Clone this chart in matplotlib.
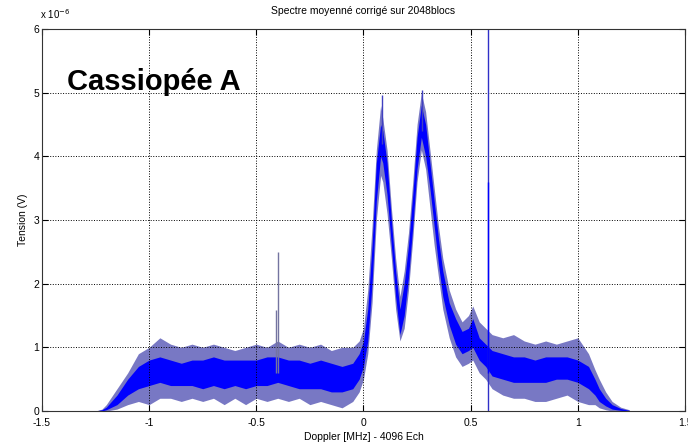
import numpy as np
import matplotlib
matplotlib.use('Agg')
import matplotlib.pyplot as plt

# Spectre moyen (unités de 1e-6 V), enveloppes
freq = [-1.25, -1.22, -1.20, -1.15, -1.10, -1.05, -1.00, -0.95, -0.90, -0.85,
        -0.80, -0.75, -0.70, -0.65, -0.60, -0.55, -0.50, -0.45, -0.40, -0.35,
        -0.30, -0.25, -0.20, -0.15, -0.10, -0.05, -0.02, 0.00, 0.02, 0.04,
        0.06, 0.08, 0.09, 0.11, 0.13, 0.15, 0.17, 0.19, 0.21, 0.23,
        0.25, 0.27, 0.29, 0.31, 0.33, 0.35, 0.37, 0.40, 0.43, 0.46,
        0.49, 0.51, 0.54, 0.57, 0.60, 0.65, 0.70, 0.75, 0.80, 0.85,
        0.90, 0.95, 1.00, 1.05, 1.08, 1.10, 1.13, 1.16, 1.20, 1.24]
coeur_bas = [0.00, 0.00, 0.02, 0.10, 0.25, 0.35, 0.40, 0.45, 0.40, 0.40,
             0.40, 0.35, 0.40, 0.35, 0.40, 0.35, 0.40, 0.40, 0.45, 0.40,
             0.35, 0.35, 0.35, 0.30, 0.30, 0.35, 0.50, 0.70, 1.10, 2.00,
             3.30, 4.00, 3.90, 3.40, 2.60, 1.80, 1.20, 1.50, 2.10, 2.90,
             3.80, 4.30, 4.00, 3.50, 2.90, 2.30, 1.80, 1.35, 1.05, 0.90,
             0.95, 1.00, 0.80, 0.70, 0.55, 0.50, 0.45, 0.45, 0.45, 0.45,
             0.50, 0.50, 0.45, 0.35, 0.25, 0.15, 0.08, 0.03, 0.01, 0.00]
coeur_haut = [0.00, 0.02, 0.06, 0.25, 0.50, 0.70, 0.80, 0.85, 0.80, 0.75,
              0.80, 0.80, 0.85, 0.80, 0.80, 0.80, 0.80, 0.85, 0.85, 0.80,
              0.80, 0.75, 0.80, 0.75, 0.70, 0.75, 0.90, 1.10, 1.60, 2.60,
              3.90, 4.50, 4.40, 3.90, 3.00, 2.20, 1.60, 2.00, 2.60, 3.40,
              4.30, 4.80, 4.50, 3.90, 3.30, 2.70, 2.20, 1.70, 1.45, 1.25,
              1.30, 1.45, 1.15, 1.05, 0.95, 0.90, 0.85, 0.85, 0.80, 0.85,
              0.85, 0.85, 0.80, 0.70, 0.50, 0.35, 0.20, 0.10, 0.04, 0.01]
pics_bas = [0.00, 0.00, 0.00, 0.03, 0.10, 0.15, 0.10, 0.20, 0.20, 0.15,
            0.20, 0.15, 0.20, 0.10, 0.20, 0.10, 0.20, 0.15, 0.20, 0.15,
            0.20, 0.10, 0.15, 0.10, 0.05, 0.15, 0.30, 0.50, 0.90, 1.70,
            3.00, 3.70, 3.60, 3.10, 2.40, 1.60, 1.10, 1.30, 1.90, 2.70,
            3.60, 4.10, 3.80, 3.20, 2.60, 2.10, 1.60, 1.15, 0.85, 0.70,
            0.75, 0.80, 0.60, 0.50, 0.35, 0.25, 0.20, 0.20, 0.15, 0.15,
            0.20, 0.25, 0.15, 0.10, 0.10, 0.05, 0.02, 0.00, 0.00, 0.00]
pics_haut = [0.00, 0.03, 0.10, 0.35, 0.60, 0.90, 1.00, 1.15, 1.05, 1.00,
             1.05, 1.00, 1.05, 1.00, 0.95, 1.00, 1.05, 1.00, 1.10, 1.00,
             1.05, 1.00, 1.05, 0.95, 1.00, 1.00, 1.10, 1.30, 1.90, 2.90,
             4.10, 4.80, 4.60, 4.10, 3.20, 2.40, 1.80, 2.20, 2.80, 3.60,
             4.50, 5.00, 4.70, 4.10, 3.50, 2.90, 2.40, 1.90, 1.60, 1.40,
             1.50, 1.65, 1.40, 1.30, 1.20, 1.15, 1.20, 1.10, 1.05, 1.10,
             1.05, 1.10, 1.15, 0.90, 0.65, 0.50, 0.30, 0.15, 0.06, 0.02]

# raies isolées : position, bas, haut
raies_x = [-0.41, -0.397, 0.085, 0.275, 0.58, 0.583]
raies_bas = [0.60, 0.60, 4.20, 4.40, 0.00, 0.60]
raies_haut = [1.59, 2.50, 4.97, 5.04, 6.50, 3.60]
raies_couleur = ['#7474a0', '#7474a0', '#4040c0', '#4040c0', '#3030c8', '#0000ff']

plt.rcParams['font.family'] = ['Liberation Sans', 'DejaVu Sans']

fig = plt.figure(figsize=(6.88, 4.45), dpi=100)
ax = fig.add_axes([0.061, 0.0764, 0.9346, 0.8584])

ax.fill_between(freq, pics_bas, pics_haut, color='#7878c4', lw=0)
ax.fill_between(freq, coeur_bas, coeur_haut, color='#0000ff', lw=0)
ax.vlines(raies_x, raies_bas, raies_haut, colors=raies_couleur, lw=1.0)

ax.set_xlim(-1.5, 1.5)
ax.set_ylim(0, 6)
ax.set_xticks([-1.5, -1, -0.5, 0, 0.5, 1, 1.5])
ax.set_xticklabels(['-1.5', '-1', '-0.5', '0', '0.5', '1', '1.5'])
ax.set_yticks(range(7))
ax.grid(True, ls=':', color='black', lw=0.7)
ax.tick_params(direction='in', top=True, right=True, labelsize=7.5, length=4, pad=2)
ax.tick_params(axis='x', pad=5)
for s in ax.spines.values():
    s.set_linewidth(0.8)
    s.set_color('#333333')

ax.set_title('Spectre moyenné corrigé sur 2048blocs', fontsize=7.5, pad=11)
ax.set_xlabel('Doppler [MHz] - 4096 Ech', fontsize=7.5, labelpad=3)
ax.set_ylabel('Tension (V)', fontsize=7.5, labelpad=4)
ax.text(-0.003, 1.022, r'x 10$^{-6}$', transform=ax.transAxes, fontsize=7,
        ha='left', va='bottom')
ax.text(0.039, 0.84, 'Cassiopée A', transform=ax.transAxes, fontsize=21,
        fontweight='bold', ha='left', va='baseline')

fig.savefig('out.png', dpi=100)
